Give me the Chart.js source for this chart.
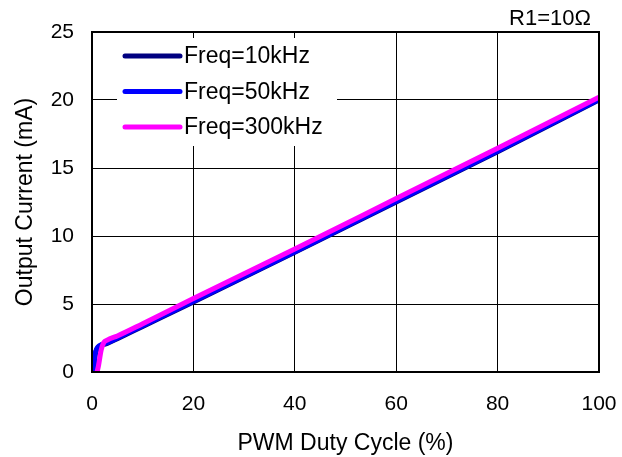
<!DOCTYPE html>
<html>
<head>
<meta charset="utf-8">
<script src="https://cdn.jsdelivr.net/npm/chart.js@4"></script>
<style>
  html, body { margin: 0; padding: 0; background: #fff; }
  #wrap { width: 622px; height: 457px; }
</style>
</head>
<body>
<div id="wrap"><canvas id="myChart" width="622" height="457"></canvas></div>
<script>
const canvasChart = document.getElementById('myChart');

// duty cycle (%) vs output current (mA), one series per PWM frequency
const duty10k = [0.3, 0.6, 1.0, 1.5, 3, 5, 10, 20, 40, 60, 80, 100];
const amp10k = [0, 1.2, 1.7, 1.9, 2.1, 2.45, 3.35, 5.15, 8.8, 12.5, 16.2, 20.0];

const duty50k = [0.3, 0.6, 1.0, 1.5, 3, 5, 10, 20, 40, 60, 80, 100];
const amp50k = [0, 1.25, 1.75, 1.95, 2.15, 2.5, 3.4, 5.2, 8.85, 12.55, 16.25, 20.05];

const duty300k = [1.0, 1.3, 1.8, 2.3, 3, 5, 10, 20, 40, 60, 80, 100];
const amp300k = [0, 0.5, 1.6, 2.15, 2.35, 2.65, 3.55, 5.4, 9.05, 12.75, 16.45, 20.2];

const xTicks = [0, 20, 40, 60, 80, 100];
const yTicks = [0, 5, 10, 15, 20, 25];

const legendNames = ['Freq=10kHz', 'Freq=50kHz', 'Freq=300kHz'];
const cores = ['#000080', '#0000ff', '#ff00ff'];
const noteText = 'R1=10\u03a9';

const fonte = 'Arial, "Liberation Sans", sans-serif';

function pontos(xs, ys) {
    return xs.map((x, i) => ({ x: x, y: ys[i] }));
}

// white legend box laid over the grid, then the frame and the R1 note
const extras = {
    id: 'extras',
    beforeDatasetsDraw(chart) {
        const ctx = chart.ctx;
        ctx.save();
        ctx.fillStyle = '#fff';
        ctx.fillRect(117, 38, 220, 108);
        ctx.font = '23px ' + fonte;
        ctx.textBaseline = 'middle';
        legendNames.forEach((nome, i) => {
            const y = 56 + i * 35.5;
            ctx.strokeStyle = cores[i];
            ctx.lineWidth = 5;
            ctx.lineCap = 'round';
            ctx.beginPath();
            ctx.moveTo(125, y);
            ctx.lineTo(180, y);
            ctx.stroke();
            ctx.fillStyle = '#000';
            ctx.fillText(nome, 184, y + 1);
        });
        ctx.restore();
    },
    afterDraw(chart) {
        const a = chart.chartArea;
        const ctx = chart.ctx;
        ctx.save();
        ctx.strokeStyle = '#000';
        ctx.lineWidth = 2;
        ctx.strokeRect(a.left, a.top, a.right - a.left, a.bottom - a.top);
        ctx.font = '22px ' + fonte;
        ctx.fillStyle = '#000';
        ctx.textAlign = 'right';
        ctx.textBaseline = 'alphabetic';
        ctx.fillText(noteText, 591, 25);
        ctx.restore();
    }
};

function serie(label, dados, cor, ordem) {
    return {
        label: label,
        data: dados,
        borderColor: cor,
        backgroundColor: cor,
        borderWidth: 5,
        pointRadius: 0,
        cubicInterpolationMode: 'monotone',
        order: ordem
    };
}

window.myChart = new Chart(canvasChart, {
    type: 'line',
    data: {
        datasets: [
            serie(legendNames[0], pontos(duty10k, amp10k), cores[0], 3),
            serie(legendNames[1], pontos(duty50k, amp50k), cores[1], 2),
            serie(legendNames[2], pontos(duty300k, amp300k), cores[2], 1)
        ]
    },
    options: {
        responsive: false,
        animation: false,
        layout: { padding: { left: 0, right: 23, top: 32, bottom: 0 } },
        plugins: {
            legend: { display: false },
            tooltip: { enabled: false }
        },
        scales: {
            x: {
                type: 'linear',
                min: 0,
                max: 100,
                afterBuildTicks: s => { s.ticks = xTicks.map(v => ({ value: v })); },
                afterFit: s => {
                    s.height = 85;
                    s.paddingLeft = 0;
                    s.paddingRight = 0;
                },
                grid: { color: '#000', lineWidth: 1, drawTicks: false },
                border: { color: '#000', width: 2 },
                ticks: {
                    color: '#000',
                    font: { family: fonte, size: 21 },
                    padding: 20,
                    maxRotation: 0
                },
                title: {
                    display: true,
                    text: 'PWM Duty Cycle (%)',
                    color: '#000',
                    font: { family: fonte, size: 23 },
                    padding: { top: 0, bottom: 0 }
                }
            },
            y: {
                type: 'linear',
                min: 0,
                max: 25,
                afterBuildTicks: s => { s.ticks = yTicks.map(v => ({ value: v })); },
                afterFit: s => {
                    s.width = 92;
                    s.paddingTop = 0;
                    s.paddingBottom = 0;
                },
                grid: { color: '#000', lineWidth: 1, drawTicks: false },
                border: { color: '#000', width: 2 },
                ticks: {
                    color: '#000',
                    font: { family: fonte, size: 21 },
                    padding: 18
                },
                title: {
                    display: true,
                    text: 'Output Current (mA)',
                    color: '#000',
                    font: { family: fonte, size: 23 },
                    padding: { top: 12, bottom: 0 }
                }
            }
        }
    },
    plugins: [extras]
});
</script>
</body>
</html>
